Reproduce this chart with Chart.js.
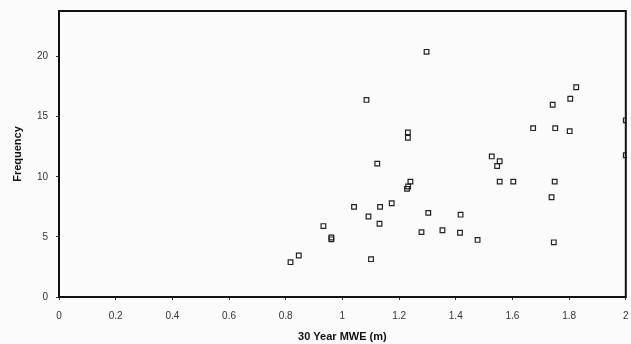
<!DOCTYPE html>
<html>
<head>
<meta charset="utf-8">
<script src="https://cdn.jsdelivr.net/npm/chart.js@4.4.0/dist/chart.umd.min.js"></script>
<style>
  html, body { margin: 0; padding: 0; background: #fafbfa; }
  #wrap { width: 631px; height: 344px; position: relative; }
</style>
</head>
<body>
<div id="wrap"><canvas id="grafico"></canvas></div>
<script>
// valores (x = MWE 30 anos, y = frequencia)
var mweX = [0.817, 0.846, 0.933, 0.961, 0.961, 1.041, 1.085, 1.092, 1.101, 1.123,
            1.131, 1.133, 1.174, 1.228, 1.232, 1.240, 1.231, 1.231, 1.279, 1.297,
            1.303, 1.353, 1.415, 1.417, 1.477, 1.527, 1.546, 1.555, 1.555, 1.603,
            1.673, 1.738, 1.742, 1.746, 1.749, 1.751, 1.802, 1.804, 1.825, 2.0, 2.0];
var freqY = [2.9, 3.45, 5.9, 4.95, 4.8, 7.5, 16.4, 6.7, 3.15, 11.1,
             6.1, 7.5, 7.8, 9.0, 9.2, 9.6, 13.7, 13.25, 5.4, 20.4,
             7.0, 5.55, 5.35, 6.85, 4.75, 11.7, 10.9, 11.3, 9.6, 9.6,
             14.05, 8.3, 16.0, 4.55, 9.6, 14.05, 13.8, 16.5, 17.45, 14.7, 11.8];
var xTicks = [0, 0.2, 0.4, 0.6, 0.8, 1, 1.2, 1.4, 1.6, 1.8, 2];
var yTicks = [0, 5, 10, 15, 20];
var xTitulo = '30 Year MWE (m)';
var yTitulo = 'Frequency';

var pontos = []
for (var i = 0; i < mweX.length; i++) {
    pontos.push({ x: mweX[i], y: freqY[i] })
}

// moldura preta em volta da area do grafico
var moldura = {
    id: 'moldura',
    afterDatasetsDraw: function (chart) {
        var a = chart.chartArea
        var ctx = chart.ctx
        ctx.save()
        ctx.strokeStyle = '#111'
        ctx.lineWidth = 2
        ctx.strokeRect(a.left, a.top, a.right - a.left, a.bottom - a.top)
        ctx.restore()
    }
}

Chart.defaults.font.family = "'Liberation Sans', Arial, sans-serif";

new Chart(document.getElementById('grafico'), {
    type: 'scatter',
    data: {
        datasets: [{
            data: pontos,
            pointStyle: 'rect',
            pointRadius: 3.3,
            pointBorderWidth: 1.2,
            pointBorderColor: '#222',
            pointBackgroundColor: 'rgba(0,0,0,0)',
            clip: { left: 4, top: 4, bottom: 4, right: 1 }
        }]
    },
    options: {
        responsive: true,
        maintainAspectRatio: false,
        animation: false,
        layout: { padding: { top: 11, right: -1, left: 0, bottom: 0 } },
        plugins: { legend: { display: false }, tooltip: { enabled: false } },
        scales: {
            x: {
                type: 'linear',
                min: 0,
                max: 2,
                afterBuildTicks: function (s) {
                    s.ticks = xTicks.map(function (v) { return { value: v } })
                },
                afterFit: function (s) { s.height = 47; s.paddingRight = 0; s.paddingLeft = 0 },
                grid: { display: true, drawOnChartArea: false, tickLength: 3, color: '#333' },
                border: { display: false },
                ticks: {
                    color: '#333',
                    font: { size: 10 },
                    padding: 10,
                    maxRotation: 0,
                    callback: function (v) { return String(Number(v.toFixed(1))) }
                },
                title: {
                    display: true,
                    text: xTitulo,
                    color: '#111',
                    font: { size: 11, weight: 'bold' },
                    padding: { top: 4, bottom: 0 }
                }
            },
            y: {
                min: 0,
                max: 23.8,
                afterBuildTicks: function (s) {
                    s.ticks = yTicks.map(function (v) { return { value: v } })
                },
                afterFit: function (s) { s.width = 59; s.paddingTop = 0; s.paddingBottom = 0 },
                grid: { display: true, drawOnChartArea: false, tickLength: 3, color: '#333' },
                border: { display: false },
                ticks: { color: '#333', font: { size: 10 }, padding: 8 },
                title: {
                    display: true,
                    text: yTitulo,
                    color: '#111',
                    font: { size: 11, weight: 'bold' },
                    padding: { top: 11, bottom: 0 }
                }
            }
        }
    },
    plugins: [moldura]
});
</script>
</body>
</html>
